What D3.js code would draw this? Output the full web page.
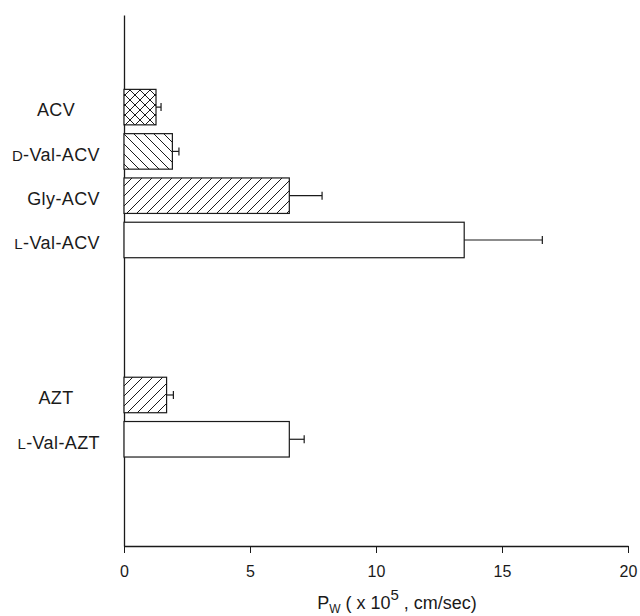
<!DOCTYPE html>
<html>
<head>
<meta charset="utf-8">
<script src="https://cdn.jsdelivr.net/npm/d3@7"></script>
<style>
  body { margin: 0; background: #fff; }
  svg { font-family: "Liberation Sans", Arial, sans-serif; }
</style>
</head>
<body>
<svg id="chart" width="640" height="616"></svg>
<script>
// data: permeability Pw (x10^5 cm/sec), mean and error
var groups = ["ACV", "AZT"];
var prefixes = ["", "D", "Gly", "L", "", "L"];
var names = ["ACV", "-Val-ACV", "-ACV", "-Val-ACV", "AZT", "-Val-AZT"];
var groupOf = ["ACV", "ACV", "ACV", "ACV", "AZT", "AZT"];
var means = [1.27, 1.92, 6.56, 13.5, 1.69, 6.56];
var errors = [0.2, 0.26, 1.3, 3.1, 0.27, 0.59];
var fills = ["cross", "back", "fwd", "none", "fwd", "none"];
var xTicks = [0, 5, 10, 15, 20];

var svg = d3.select("#chart");
var ink = "#1a1a1a";

// hatch patterns
var defs = svg.append("defs");
var hatch = {
  fwd: "M-1,1 l2,-2 M0,10 l10,-10 M9,11 l2,-2",
  back: "M-1,9 l2,2 M0,0 l10,10 M9,-1 l2,2",
  cross: "M-1,1 l2,-2 M0,10 l10,-10 M9,11 l2,-2 M-1,9 l2,2 M0,0 l10,10 M9,-1 l2,2"
};
Object.keys(hatch).forEach(function (k) {
  var p = defs.append("pattern")
    .attr("id", "pat-" + k)
    .attr("patternUnits", "userSpaceOnUse")
    .attr("width", 10).attr("height", 10);
  p.append("rect").attr("width", 10).attr("height", 10).attr("fill", "#fff");
  p.append("path").attr("d", hatch[k])
    .attr("stroke", ink).attr("stroke-width", 1).attr("fill", "none");
});

// slot index: each group gets consecutive slots, groups separated by a gap
var groupGap = 3.5;
var slots = [];
var s = 0;
groupOf.forEach(function (g, i) {
  if (i > 0 && g !== groupOf[i - 1]) s += groupGap - 1;
  slots.push(s);
  s += 1;
});

var x = d3.scaleLinear().domain([0, 20]).range([124, 628]);
var y = d3.scaleLinear().domain([-2.08, 9.91]).range([15, 546]);
var barH = 35.5;

// axes
var xAxis = svg.append("g")
  .attr("transform", "translate(0," + y.range()[1] + ")")
  .call(d3.axisBottom(x).tickValues(xTicks).tickSize(7).tickSizeOuter(0).tickPadding(13));
xAxis.select(".domain").attr("stroke", ink).attr("stroke-width", 1.3);
xAxis.selectAll(".tick line").attr("stroke", ink).attr("stroke-width", 1);
xAxis.selectAll(".tick text").attr("font-size", 16).attr("fill", ink)
  .attr("font-family", "Liberation Sans, Arial, sans-serif");

var yAxis = svg.append("g")
  .attr("transform", "translate(" + x(0) + ",0)")
  .call(d3.axisLeft(y).tickValues([]).tickSizeOuter(0));
yAxis.select(".domain").attr("stroke", ink).attr("stroke-width", 1.3);

// bars
var idx = d3.range(means.length);
svg.append("g").selectAll("rect")
  .data(idx)
  .enter()
  .append("rect")
  .attr("x", x(0))
  .attr("y", function (i) { return y(slots[i]) - barH / 2; })
  .attr("width", function (i) { return x(means[i]) - x(0); })
  .attr("height", barH)
  .attr("fill", function (i) { return fills[i] === "none" ? "#fff" : "url(#pat-" + fills[i] + ")"; })
  .attr("stroke", ink)
  .attr("stroke-width", 1.2);

// error bars (positive side only)
var err = svg.append("g").attr("stroke", ink).attr("stroke-width", 1.2);
err.selectAll("line.whisker")
  .data(idx)
  .enter()
  .append("line")
  .attr("class", "whisker")
  .attr("x1", function (i) { return x(means[i]); })
  .attr("x2", function (i) { return x(means[i] + errors[i]); })
  .attr("y1", function (i) { return y(slots[i]); })
  .attr("y2", function (i) { return y(slots[i]); });
err.selectAll("line.cap")
  .data(idx)
  .enter()
  .append("line")
  .attr("class", "cap")
  .attr("x1", function (i) { return x(means[i] + errors[i]); })
  .attr("x2", function (i) { return x(means[i] + errors[i]); })
  .attr("y1", function (i) { return y(slots[i]) - 4; })
  .attr("y2", function (i) { return y(slots[i]) + 4; });

// category labels: parent drugs centred, prodrugs right-aligned
var labels = svg.append("g").attr("fill", ink).attr("font-size", 18)
  .attr("letter-spacing", 0.4);
labels.selectAll("text")
  .data(idx)
  .enter()
  .append("text")
  .attr("x", function (i) { return groups.indexOf(prefixes[i] + names[i]) >= 0 ? 56 : 100; })
  .attr("y", function (i) { return y(slots[i]) + 3; })
  .attr("dy", "0.35em")
  .attr("text-anchor", function (i) { return groups.indexOf(prefixes[i] + names[i]) >= 0 ? "middle" : "end"; })
  .each(function (i) {
    var t = d3.select(this);
    var p = prefixes[i];
    if (p === "D" || p === "L") {
      t.append("tspan").attr("font-size", 15).text(p);
    } else if (p) {
      t.append("tspan").text(p);
    }
    t.append("tspan").text(names[i]);
  });

// x-axis title
var title = svg.append("text")
  .attr("x", 397)
  .attr("y", 609)
  .attr("text-anchor", "middle")
  .attr("font-size", 18)
  .attr("fill", ink);
title.append("tspan").text("P");
title.append("tspan").attr("font-size", 12).attr("dy", 4).text("W");
title.append("tspan").attr("dy", -4).text(" ( x 10");
title.append("tspan").attr("font-size", 15).attr("dy", -9).text("5");
title.append("tspan").attr("dy", 9).text(" , cm/sec)");
</script>
</body>
</html>
